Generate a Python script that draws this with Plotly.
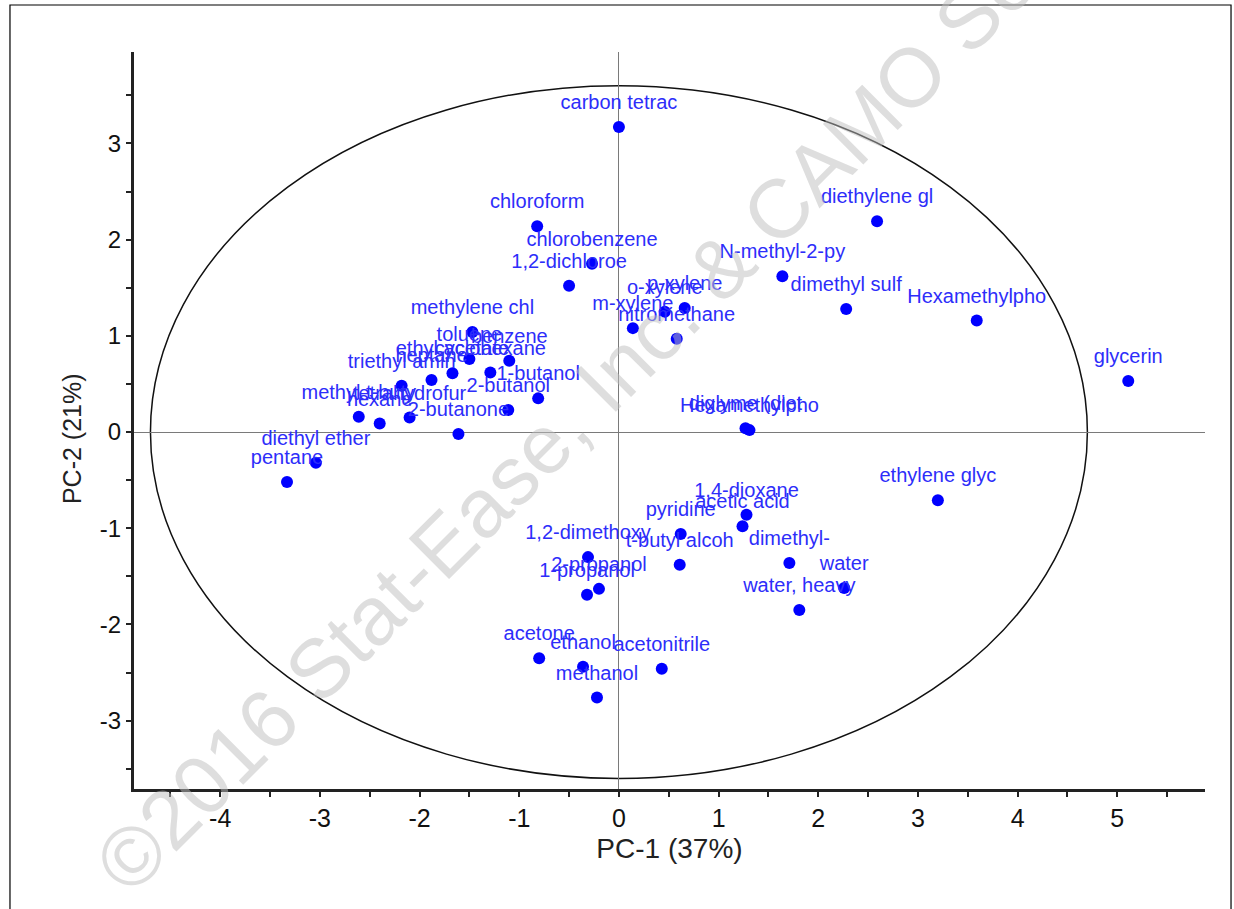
import plotly.graph_objects as go

# PCA scores for the solvents (PC-1, PC-2) and their short names
names = [
    "carbon tetrac", "chloroform", "chlorobenzene", "1,2-dichloroe", "diethylene gl",
    "N-methyl-2-py", "dimethyl sulf", "Hexamethylpho", "glycerin", "p-xylene",
    "o-xylene", "m-xylene", "nitromethane", "methylene chl", "toluene",
    "benzene", "ethyl acetate", "cyclohexane", "heptane", "triethyl amin",
    "1-butanol", "2-butanol", "methyl t-buty", "tetrahydrofur", "hexane",
    "2-butanone", "diethyl ether", "pentane", "diglyme (diet", "Hexamethylpho",
    "ethylene glyc", "1,4-dioxane", "acetic acid", "pyridine", "1,2-dimethoxy",
    "t-butyl alcoh", "dimethyl-", "water", "2-propanol", "1-propanol",
    "water, heavy", "acetone", "ethanol", "acetonitrile", "methanol",
]
pc1 = [
    0.00, -0.82, -0.27, -0.50, 2.59,
    1.64, 2.28, 3.59, 5.11, 0.66,
    0.46, 0.14, 0.58, -1.47, -1.50,
    -1.10, -1.67, -1.29, -1.88, -2.18,
    -0.81, -1.11, -2.61, -2.10, -2.40,
    -1.61, -3.04, -3.33, 1.27, 1.31,
    3.20, 1.28, 1.24, 0.62, -0.31,
    0.61, 1.71, 2.26, -0.20, -0.32,
    1.81, -0.80, -0.36, 0.43, -0.22,
]
pc2 = [
    3.17, 2.14, 1.75, 1.52, 2.19,
    1.62, 1.28, 1.16, 0.53, 1.29,
    1.25, 1.08, 0.97, 1.04, 0.76,
    0.74, 0.61, 0.62, 0.54, 0.48,
    0.35, 0.23, 0.16, 0.15, 0.09,
    -0.02, -0.32, -0.52, 0.04, 0.02,
    -0.71, -0.86, -0.98, -1.06, -1.30,
    -1.38, -1.36, -1.62, -1.63, -1.69,
    -1.85, -2.35, -2.44, -2.46, -2.76,
]

# tick positions and labels (plain hyphen for negatives)
x_ticks = [-4, -3, -2, -1, 0, 1, 2, 3, 4, 5]
x_ticktext = ["-4", "-3", "-2", "-1", "0", "1", "2", "3", "4", "5"]
y_ticks = [-3, -2, -1, 0, 1, 2, 3]
y_ticktext = ["-3", "-2", "-1", "0", "1", "2", "3"]

# Hotelling-type confidence ellipse half-axes
ell_rx = 4.70
ell_ry = 3.60

x_title = "PC-1 (37%)"
y_title = "PC-2 (21%)"
watermark = "©2016 Stat-Ease, Inc. & CAMO Software"

blue = "#0000ff"
label_blue = "rgb(45,45,250)"
font_family = "Liberation Sans, Arial, sans-serif"

fig = go.Figure()

# sample markers
fig.add_trace(go.Scatter(
    x=pc1, y=pc2, text=names,
    mode="markers",
    marker=dict(color=blue, size=12, line=dict(width=0)),
    hoverinfo="x+y+text",
    showlegend=False,
))

# sample names, placed above each marker
fig.add_trace(go.Scatter(
    x=pc1, y=pc2, text=names,
    mode="markers+text",
    textposition="top center",
    marker=dict(color=blue, size=19, opacity=0),
    textfont=dict(family=font_family, size=20, color=label_blue),
    cliponaxis=False,
    hoverinfo="skip",
    showlegend=False,
))

fig.add_shape(
    type="circle", xref="x", yref="y",
    x0=-ell_rx, x1=ell_rx, y0=-ell_ry, y1=ell_ry,
    line=dict(color="#111111", width=1.5),
    layer="below",
)

# outer frame
fig.add_shape(
    type="rect", xref="paper", yref="paper",
    x0=-0.1158, x1=1.0243, y0=-0.18, y1=1.0638,
    line=dict(color="#000000", width=1.2),
)

fig.add_annotation(
    text=watermark, xref="paper", yref="paper",
    x=0.477, y=0.6065, xanchor="center", yanchor="middle",
    showarrow=False, textangle=-45,
    font=dict(family=font_family, size=83, color="rgba(190,190,190,0.5)"),
)

# y-axis title
fig.add_annotation(
    text=y_title, xref="paper", yref="paper",
    x=-0.058, y=0.476, xanchor="center", yanchor="middle",
    showarrow=False, textangle=-90,
    font=dict(family=font_family, size=25, color="#222222"),
)

axis_common = dict(
    showgrid=False,
    zeroline=True, zerolinecolor="#7a7a7a", zerolinewidth=1,
    showline=True, linecolor="#222222", linewidth=3,
    ticks="outside", ticklen=5, tickwidth=2, tickcolor="#222222",
    minor=dict(dtick=0.5, ticks="outside", ticklen=5, tickwidth=2, tickcolor="#222222"),
)

fig.update_xaxes(
    range=[-4.865, 5.88],
    tickmode="array", tickvals=x_ticks, ticktext=x_ticktext,
    tickfont=dict(family=font_family, size=25, color="#111111"),
    title=dict(text=x_title, standoff=8,
               font=dict(family=font_family, size=28, color="#222222")),
    **axis_common,
)
fig.update_yaxes(
    range=[-3.71, 3.95],
    tickmode="array", tickvals=y_ticks, ticktext=y_ticktext,
    tickfont=dict(family=font_family, size=24, color="#111111"),
    **axis_common,
)

fig.update_layout(
    width=1234, height=909,
    margin=dict(l=134, r=29, t=52, b=120),
    paper_bgcolor="white", plot_bgcolor="white",
)

fig.write_html("out.html")
